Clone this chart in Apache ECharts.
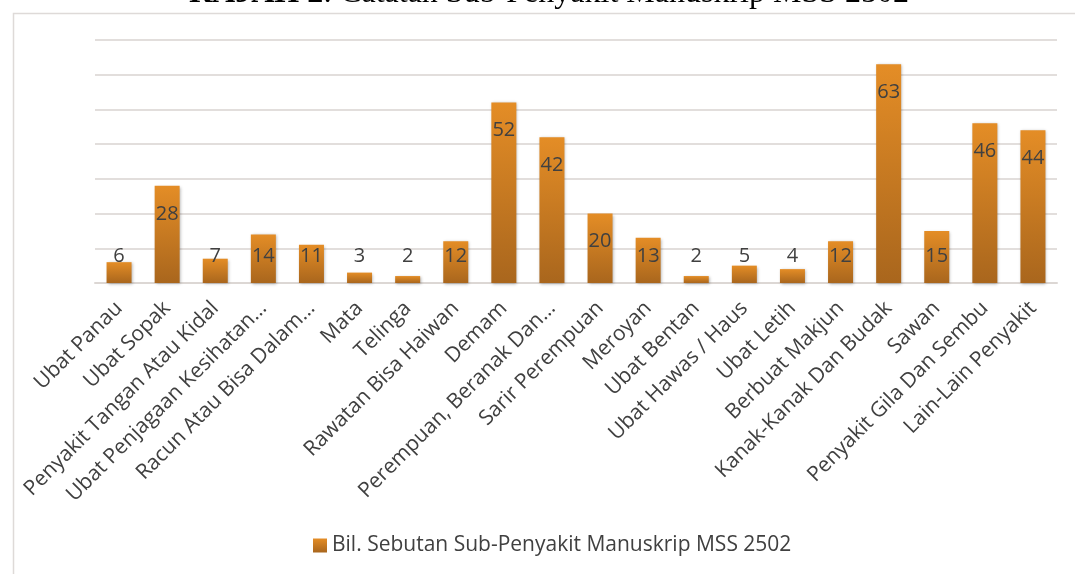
<!DOCTYPE html>
<html>
<head>
<meta charset="utf-8">
<script src="https://cdn.jsdelivr.net/npm/echarts@6/dist/echarts.min.js"></script>
<style>
    html, body { margin: 0; padding: 0; background: #fff; }
    #chart { width: 1075px; height: 574px; }
</style>
</head>
<body>
<div id="chart"></div>
<script>
// data
const categories = [
    'Ubat Panau', 'Ubat Sopak', 'Penyakit Tangan Atau Kidal', 'Ubat Penjagaan Kesihatan…',
    'Racun Atau Bisa Dalam…', 'Mata', 'Telinga', 'Rawatan Bisa Haiwan', 'Demam',
    'Perempuan, Beranak Dan…', 'Sarir Perempuan', 'Meroyan', 'Ubat Bentan',
    'Ubat Hawas / Haus', 'Ubat Letih', 'Berbuat Makjun', 'Kanak-Kanak Dan Budak',
    'Sawan', 'Penyakit Gila Dan Sembu', 'Lain-Lain Penyakit'
];
const counts = [6, 28, 7, 14, 11, 3, 2, 12, 52, 42, 20, 13, 2, 5, 4, 12, 63, 15, 46, 44];
const seriesName = 'Bil. Sebutan Sub-Penyakit Manuskrip MSS 2502';

const FONT = 'Open Sans';
const TEXT = '#404040';

const barColor = new echarts.graphic.LinearGradient(0, 0, 0, 1, [
    { offset: 0, color: '#e48d26' },
    { offset: 1, color: '#a9661d' }
]);

// Excel "inside end" labels: sit near the bar top, but not lower than a fixed band
const barData = counts.map(v => ({
    value: v,
    label: v >= 16
        ? { position: 'insideTop', distance: 18 }
        : { position: 'insideBottom', distance: 17 }
}));

const chart = echarts.init(document.getElementById('chart'));

const option = {
    animation: false,
    title: {
        text: '{b|RAJAH 2}: Catatan Sub-Penyakit Manuskrip MSS 2502',
        left: 184,
        top: -27,
        textStyle: {
            fontFamily: 'Liberation Serif',
            fontSize: 32,
            fontWeight: 'normal',
            color: '#000',
            rich: {
                b: { fontFamily: 'Liberation Serif', fontSize: 32, fontWeight: 'bold', color: '#000' }
            }
        }
    },
    graphic: [{
        type: 'rect',
        left: 11, top: 11, z: -1,
        shape: { width: 1100, height: 600 },
        style: { fill: 'none', stroke: '#dedad8', lineWidth: 1.5 }
    }],
    legend: {
        bottom: 13,
        left: 308,
        itemWidth: 14,
        itemHeight: 14,
        itemGap: 6,
        icon: 'rect',
        textStyle: { fontFamily: FONT, fontSize: 21, color: TEXT }
    },
    grid: { left: 95, right: 18, top: 40, bottom: 291 },
    xAxis: {
        type: 'category',
        data: categories,
        axisTick: { show: false },
        axisLine: { lineStyle: { color: '#dcd7d4', width: 2 } },
        axisLabel: {
            interval: 0,
            rotate: 45,
            margin: 22,
            fontFamily: FONT,
            fontSize: 21,
            color: TEXT
        }
    },
    yAxis: {
        type: 'value',
        min: 0,
        max: 70,
        interval: 10,
        axisLabel: { show: false },
        axisLine: { show: false },
        axisTick: { show: false },
        splitLine: { lineStyle: { color: '#e2dedc', width: 2 } }
    },
    series: [{
        name: seriesName,
        type: 'bar',
        data: barData,
        barWidth: 25,
        itemStyle: {
            color: barColor,
            shadowColor: 'rgba(0,0,0,0.3)',
            shadowBlur: 3,
            shadowOffsetX: 1,
            shadowOffsetY: 1
        },
        label: {
            show: true,
            fontFamily: FONT,
            fontSize: 20,
            color: TEXT
        }
    }]
};

chart.setOption(option);
</script>
</body>
</html>
